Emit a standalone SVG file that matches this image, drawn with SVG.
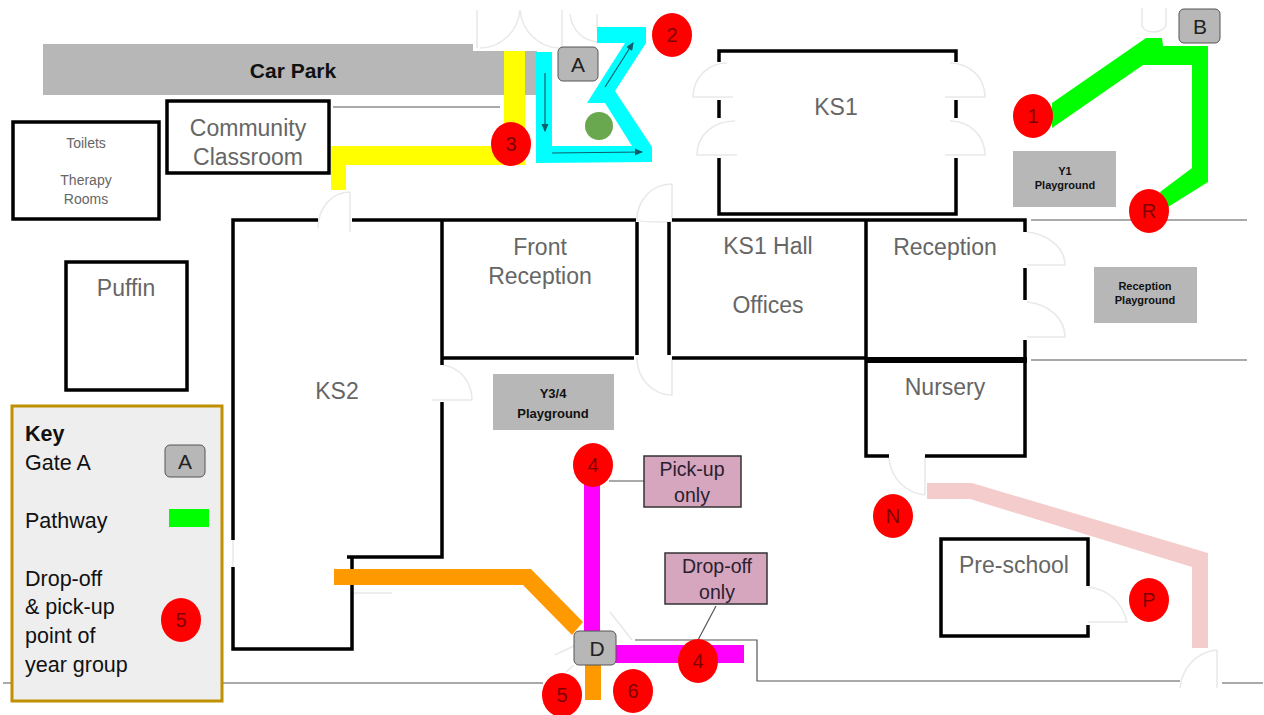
<svg xmlns="http://www.w3.org/2000/svg" width="1264" height="715" viewBox="0 0 1264 715">
<style>
text{font-family:"Liberation Sans",Arial,sans-serif;text-anchor:middle}
.wall{fill:none;stroke:#000;stroke-width:3.5}
.thin{fill:none;stroke:#555;stroke-width:1.2}
.door{fill:none;stroke:#e9e9e9;stroke-width:1.6}
.room{fill:#666;font-size:23px}
.small{fill:#666;font-size:14px}
.pg{fill:#b7b7b7}
.pgt{fill:#111;font-size:11px;font-weight:bold}
.gate{fill:#b7b7b7;stroke:#555;stroke-width:1}
.gt{fill:#222;font-size:21px}
.dot{fill:#f00}
.dt{fill:#800000;font-size:20px}
.lab{fill:#d5a6bd;stroke:#333;stroke-width:1.5}
.lt{fill:#2a2030;font-size:19.5px}
.key{fill:#111;font-size:21.5px;text-anchor:start}
.arrow{fill:none;stroke:#0b5f6b;stroke-width:1.2;marker-end:url(#ah)}
</style>
<defs>
<marker id="ah" markerWidth="7" markerHeight="6" refX="6" refY="3" orient="auto"><path d="M0 0L7 3L0 6Z" fill="#0b5f6b"/></marker>
</defs>
<rect width="1264" height="715" fill="#fff"/>

<g id="car-park">
<path d="M43 44H473V51H537V95H43Z" fill="#b7b7b7"/>
<text x="293" y="78" font-size="21" font-weight="bold" fill="#111">Car Park</text>
</g>

<g id="boundaries">
<path class="thin" d="M333 107H500M1031 220H1247M1031 360H1247M3 683H543M635 640H757V681H1180M1222 683H1263"/>
</g>

<g id="doors">
<path class="door" d="M477 10V48M520 10C518 32 500 48 480 48M520 10C522 32 540 48 560 48M562 10V48M570 14C572 30 582 40 597 42M597 14V30"/>
<path class="door" d="M733 97H693C693 78 708 63 727 63M737 155H697C697 136 712 121 735 121M945 97H985C985 78 970 63 950 63M945 155H985C985 136 970 121 950 121"/>
<path class="door" d="M672 184V222C672 222 637 222 637 220C637 200 652 184 672 184M672 358V395C652 395 637 378 637 358"/>
<path class="door" d="M350 192V232M350 192C332 192 318 208 318 228"/>
<path class="door" d="M442 365C460 367 472 382 472 400M432 400H472M352 593H392M233 540V567"/>
<path class="door" d="M925 456V495M889 458C891 478 905 493 925 495"/>
<path class="door" d="M1027 232C1048 234 1065 248 1065 265H1027M1027 302C1048 304 1065 318 1065 337H1027"/>
<path class="door" d="M1088 587C1108 589 1122 602 1127 622H1088"/>
<path class="door" d="M1217 650V688M1217 650C1196 652 1182 668 1180 688"/>
<path class="door" d="M1142 8V26C1146 34 1160 34 1166 26V8"/>
<path class="door" d="M610 612L632 640M555 655L578 644M574 665L566 672"/>
</g>

<g id="walls">
<path class="wall" d="M719 62V51H956V62M719 100V118M956 100V118M719 158V214H956V158"/>
<path class="wall" d="M233 540V220H318M352 220H636M672 220H1025V232M1025 268V300M1025 340V359"/>
<path class="wall" d="M233 567V649H352V558M347 557H442V402M442 365V220"/>
<path class="wall" d="M442 358H634M672 358H866M637 222V355M669 222V355M866 220V456H889M925 456H1025V362"/>
<path d="M866 360H1027" fill="none" stroke="#000" stroke-width="6"/>
</g>

<g id="toilets"><rect class="wall" x="13" y="122" width="146" height="97"/>
<text class="small" x="86" y="148">Toilets</text><text class="small" x="86" y="185">Therapy</text><text class="small" x="86" y="204">Rooms</text></g>
<g id="community-classroom"><rect class="wall" x="167" y="101" width="162" height="72"/>
<text class="room" x="248" y="136">Community</text><text class="room" x="248" y="165">Classroom</text></g>
<g id="puffin"><rect class="wall" x="66" y="262" width="121" height="128"/><text class="room" x="126" y="296">Puffin</text></g>
<g id="ks1"><text class="room" x="836" y="115">KS1</text></g>
<g id="ks2"><text class="room" x="337" y="399">KS2</text></g>
<g id="front-reception"><text class="room" x="540" y="255">Front</text><text class="room" x="540" y="284">Reception</text></g>
<g id="ks1-hall"><text class="room" x="768" y="254">KS1 Hall</text><text class="room" x="768" y="313">Offices</text></g>
<g id="reception"><text class="room" x="945" y="255">Reception</text></g>
<g id="nursery"><text class="room" x="945" y="395">Nursery</text></g>
<g id="pre-school"><path class="wall" d="M1088 586V539H941V636H1088V625"/><text class="room" x="1014" y="573">Pre-school</text></g>

<g id="y1-playground"><rect class="pg" x="1013" y="151" width="103" height="56"/><text class="pgt" x="1065" y="175">Y1</text><text class="pgt" x="1065" y="189">Playground</text></g>
<g id="reception-playground"><rect class="pg" x="1094" y="267" width="103" height="56"/><text class="pgt" x="1145" y="290">Reception</text><text class="pgt" x="1145" y="304">Playground</text></g>
<g id="y34-playground"><rect class="pg" x="493" y="374" width="121" height="56"/><text class="pgt" style="font-size:13px" x="553" y="398">Y3/4</text><text class="pgt" style="font-size:13px" x="553" y="418">Playground</text></g>

<g id="connectors">
<path d="M504 51H525V165H346V190H331V146H504Z" fill="#ff0"/>
<path d="M597 27H646V43L615 91L652 147V162L536 163V52H552V146H632L605 103H587L625 43H597Z" fill="#0ff"/>
<path class="arrow" d="M545 73V131"/><path class="arrow" d="M552 153L642 152"/><path class="arrow" d="M605 87L633 43"/>
<path d="M1052 103L1146 38H1162L1163 46H1208V182L1168 207L1160 192L1192 168V65H1143L1052 128Z" fill="#0f0"/>
<path d="M927 483H972L1208 553V648H1192V567L970 499H927Z" fill="#f4cccc"/>
<path d="M334 569H531L583 622L572 635L523 585H334ZM585 660H601V700H585Z" fill="#ff9900"/>
<path d="M584 480H600V635H584ZM610 645H744V663H610Z" fill="#f0f"/>
<path class="thin" d="M609 481H644M716 606L698 640"/>
</g>

<g id="bush"><circle cx="599" cy="126" r="14" fill="#6aa84f"/></g>

<g id="gate-a"><rect class="gate" x="558" y="47" width="40" height="34" rx="5"/><text class="gt" x="578" y="72">A</text></g>
<g id="gate-b"><rect class="gate" x="1179" y="9" width="41" height="34" rx="5"/><text class="gt" x="1200" y="34">B</text></g>
<g id="gate-d"><rect class="gate" x="574" y="631" width="42" height="34" rx="5"/><text class="gt" x="597" y="656">D</text></g>

<g id="point-2"><ellipse class="dot" cx="672" cy="35" rx="20" ry="22"/><text class="dt" x="672" y="42">2</text></g>
<g id="point-3"><ellipse class="dot" cx="511" cy="144" rx="20" ry="22"/><text class="dt" x="511" y="151">3</text></g>
<g id="point-1"><ellipse class="dot" cx="1033" cy="116" rx="20" ry="22"/><text class="dt" x="1033" y="123">1</text></g>
<g id="point-r"><ellipse class="dot" cx="1149" cy="211" rx="20" ry="22"/><text class="dt" x="1149" y="218">R</text></g>
<g id="point-4a"><ellipse class="dot" cx="593" cy="465" rx="20" ry="22"/><text class="dt" x="593" y="472">4</text></g>
<g id="point-4b"><ellipse class="dot" cx="698" cy="661" rx="20" ry="22"/><text class="dt" x="698" y="668">4</text></g>
<g id="point-5"><ellipse class="dot" cx="562" cy="695" rx="20" ry="22"/><text class="dt" x="562" y="702">5</text></g>
<g id="point-6"><ellipse class="dot" cx="633" cy="691" rx="20" ry="22"/><text class="dt" x="633" y="698">6</text></g>
<g id="point-n"><ellipse class="dot" cx="893" cy="516" rx="20" ry="22"/><text class="dt" x="893" y="523">N</text></g>
<g id="point-p"><ellipse class="dot" cx="1149" cy="600" rx="20" ry="22"/><text class="dt" x="1149" y="607">P</text></g>

<g id="pick-up"><rect class="lab" x="644" y="456" width="97" height="51"/><text class="lt" x="692" y="476">Pick-up</text><text class="lt" x="692" y="502">only</text></g>
<g id="drop-off"><rect class="lab" x="665" y="553" width="102" height="51"/><text class="lt" x="717" y="573">Drop-off</text><text class="lt" x="717" y="599">only</text></g>

<g id="key">
<rect x="12" y="406" width="210" height="295" fill="#eee" stroke="#bf9000" stroke-width="3"/>
<text class="key" x="25" y="441" font-weight="bold">Key</text>
<text class="key" x="25" y="470">Gate A</text>
<text class="key" x="25" y="528">Pathway</text>
<text class="key" x="25" y="586">Drop-off</text>
<text class="key" x="25" y="614">&amp; pick-up</text>
<text class="key" x="25" y="643">point of</text>
<text class="key" x="25" y="672">year group</text>
<rect class="gate" x="165" y="445" width="40" height="32" rx="5"/><text class="gt" x="185" y="469">A</text>
<rect x="169" y="509" width="40" height="18" fill="#0f0"/>
<ellipse class="dot" cx="181" cy="620" rx="20" ry="22"/><text class="dt" x="181" y="627">5</text>
</g>
</svg>
